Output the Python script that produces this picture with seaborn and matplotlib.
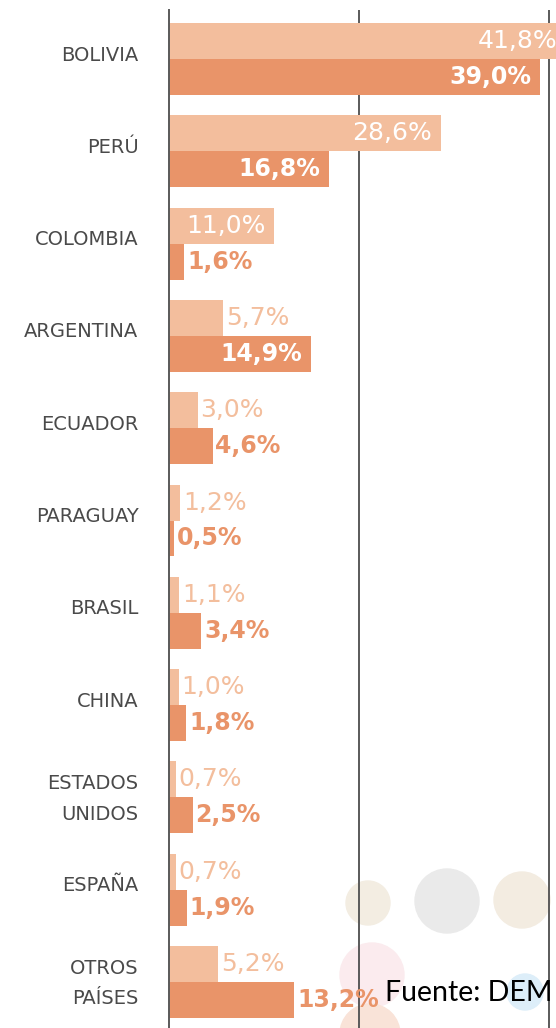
import matplotlib
matplotlib.use("Agg")
import matplotlib.pyplot as plt
from matplotlib.patches import Ellipse
from matplotlib.transforms import ScaledTranslation
import seaborn as sns
import pandas as pd

# ---- data ----
paises = ["BOLIVIA", "PERÚ", "COLOMBIA", "ARGENTINA", "ECUADOR", "PARAGUAY",
          "BRASIL", "CHINA", "ESTADOS\nUNIDOS", "ESPAÑA", "OTROS\nPAÍSES"]
serie_a = [41.8, 28.6, 11.0, 5.7, 3.0, 1.2, 1.1, 1.0, 0.7, 0.7, 5.2]
serie_b = [39.0, 16.8, 1.6, 14.9, 4.6, 0.5, 3.4, 1.8, 2.5, 1.9, 13.2]
series = ["Serie A", "Serie B"]

LIGHT = "#F3BE9D"
DARK = "#E99469"

df = pd.DataFrame({
    "pais": paises * 2,
    "valor": serie_a + serie_b,
    "serie": [series[0]] * len(paises) + [series[1]] * len(paises),
})

sns.set_style("white")
plt.rcParams["font.family"] = ["DejaVu Sans"]

W, H = 556, 1028
fig = plt.figure(figsize=(W / 100, H / 100), dpi=100)

# decorative faint circles (background)
circles = [(368, 903, 22, "#F3EDE2"), (447, 901, 32, "#EAEAEA"),
           (522, 900, 28, "#F3ECE1"), (372, 975, 32, "#FBEBEE"),
           (525, 992, 18, "#DDEEF9"), (370, 1034, 30, "#F9E3D8")]
for cx, cy, r, c in circles:
    fig.patches.append(Ellipse((cx / W, 1 - cy / H), 2 * r / W, 2 * r / H,
                               transform=fig.transFigure, color=c, zorder=-1))

ax = fig.add_axes([169 / W, 0, 1 - 169 / W, 1 - 10 / H])
ax.set_facecolor("none")

sns.barplot(data=df, y="pais", x="valor", hue="serie", orient="h",
            palette=[LIGHT, DARK], width=0.78, gap=0, saturation=1,
            legend=False, ax=ax, zorder=1, linewidth=0)

px_per_unit = 9.5
ax.set_xlim(0, (W - 169) / px_per_unit)
ax.set_ylim((H - 59) / 92.3, -49 / 92.3)

ax.set_xticks([20, 40])
ax.set_xticklabels([])
ax.grid(axis="x", color="#5a5a5a", lw=1.4)
ax.grid(axis="y", visible=False)
ax.set_axisbelow(True)
for s in ["top", "right", "bottom"]:
    ax.spines[s].set_visible(False)
ax.spines["left"].set_color("#5a5a5a")
ax.spines["left"].set_linewidth(1.4)
ax.tick_params(axis="x", length=0)
ax.tick_params(axis="y", length=0, pad=22, labelsize=14, labelcolor="#4a4a4a")
shift = ScaledTranslation(0, 6 / 100, fig.dpi_scale_trans)
for t in ax.get_yticklabels():
    t.set_linespacing(1.75)
    t.set_transform(t.get_transform() + shift)
ax.set_xlabel("")
ax.set_ylabel("")

def fmt(v):
    return f"{v:.1f}".replace(".", ",") + "%"

thresholds = [10.5, 14.0]
colors = [LIGHT, DARK]
weights = ["normal", "bold"]
sizes = [18, 17]
for i, cont in enumerate(ax.containers):
    for bar in cont:
        v = bar.get_width()
        yc = bar.get_y() + bar.get_height() / 2
        if v >= thresholds[i]:
            ax.annotate(fmt(v), (v, yc), xytext=(-6, 0), textcoords="offset points",
                        ha="right", va="center", color="white",
                        fontsize=sizes[i], fontweight=weights[i], annotation_clip=False)
        else:
            ax.annotate(fmt(v), (v, yc), xytext=(2, 0), textcoords="offset points",
                        ha="left", va="center", color=colors[i],
                        fontsize=sizes[i], fontweight=weights[i], annotation_clip=False)

fig.text(385 / W, 1 - 1001 / H, "Fuente: DEM", family="Lato", fontsize=20.5,
         color="black", va="baseline", ha="left")

fig.savefig("out.png", dpi=100)
